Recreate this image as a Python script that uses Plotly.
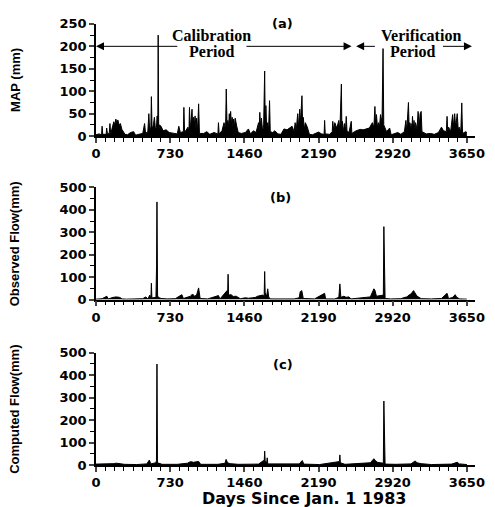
import plotly.graph_objects as go

# panel (a): mean areal precipitation (day, mm)
map_day = [0, 30, 55, 60, 66, 100, 105, 112, 130, 137, 145, 165, 175, 185, 195, 205, 215, 228, 240, 255,
           270, 285, 310, 340, 370, 390, 420, 460, 478, 488, 510, 520, 528, 540, 545, 552, 565, 575, 585, 595,
           602, 608, 612, 617, 625, 640, 660, 690, 720, 760, 800, 815, 830, 860, 865, 872, 905, 915, 920, 928,
           935, 945, 952, 960, 968, 975, 985, 990, 1000, 1010, 1018, 1060, 1090, 1120, 1160, 1200, 1205, 1212,
           1240, 1260, 1275, 1282, 1290, 1298, 1305, 1312, 1318, 1325, 1333, 1340, 1348, 1355, 1362, 1370,
           1385, 1400, 1430, 1470, 1500, 1520, 1550, 1575, 1600, 1606, 1612, 1620, 1628, 1640, 1650, 1660,
           1666, 1672, 1680, 1690, 1698, 1708, 1715, 1740, 1760, 1790, 1820, 1850, 1880, 1900, 1930, 1950,
           1960, 1970, 1985, 1993, 2005, 2012, 2020, 2027, 2033, 2040, 2050, 2060, 2080, 2100, 2130, 2160,
           2190, 2220, 2245, 2250, 2256, 2300, 2325, 2330, 2340, 2350, 2370, 2390, 2400, 2415, 2420, 2425,
           2435, 2445, 2455, 2463, 2470, 2490, 2512, 2518, 2560, 2600, 2630, 2660, 2690, 2720, 2735, 2745,
           2752, 2760, 2770, 2780, 2790, 2800, 2815, 2825, 2832, 2860, 2890, 2905, 2940, 2970, 3000, 3035,
           3050, 3058, 3075, 3082, 3088, 3095, 3100, 3108, 3115, 3122, 3130, 3138, 3145, 3160, 3170, 3180,
           3190, 3200, 3208, 3250, 3290, 3330, 3370, 3400, 3420, 3448, 3455, 3462, 3470, 3490, 3510, 3518,
           3530, 3540, 3555, 3565, 3575, 3590, 3600, 3607, 3640, 3650]
map_mm = [3, 5, 3, 22, 4, 4, 18, 6, 5, 28, 5, 20, 32, 25, 38, 30, 36, 24, 28, 15,
          10, 4, 3, 8, 10, 2, 4, 6, 28, 6, 10, 50, 15, 20, 88, 15, 25, 42, 15, 20,
          45, 10, 225, 10, 25, 22, 12, 14, 8, 6, 5, 22, 8, 10, 64, 8, 20, 10, 64, 15,
          30, 60, 20, 42, 25, 45, 15, 40, 12, 72, 6, 6, 10, 4, 8, 5, 30, 5,
          12, 30, 15, 105, 20, 35, 20, 50, 25, 55, 25, 42, 20, 38, 20, 40,
          22, 8, 6, 8, 16, 5, 12, 8, 30, 10, 53, 20, 40, 10, 25, 145,
          15, 68, 15, 30, 10, 79, 10, 8, 12, 5, 4, 16, 14, 18, 22, 10,
          30, 12, 50, 20, 60, 30, 88, 90, 30, 42, 15, 30, 20, 4, 3, 6,
          9, 5, 4, 35, 5, 4, 10, 33, 12, 30, 18, 35, 12, 116, 12, 33,
          10, 28, 12, 44, 12, 8, 33, 6, 12, 15, 14, 16, 18, 30, 20, 66,
          25, 48, 20, 30, 20, 48, 30, 195, 25, 10, 18, 3, 5, 8, 4, 10,
          35, 10, 75, 15, 30, 12, 28, 12, 44, 15, 35, 12, 30, 15, 55, 20,
          50, 55, 10, 5, 6, 4, 8, 20, 12, 10, 44, 10, 20, 10, 48, 20,
          50, 20, 50, 15, 20, 10, 74, 6, 10, 8]

# panel (b): observed flow (day, mm)
obs_day = [0, 60, 107, 120, 170, 200, 230, 260, 300, 400, 460, 490, 510, 530, 540, 545, 550, 560, 590, 596,
           600, 606, 612, 640, 700, 780, 845, 860, 900, 930, 950, 970, 990, 1010, 1025, 1100, 1205, 1220,
           1290, 1295, 1300, 1305, 1330, 1350, 1380, 1400, 1420, 1470, 1500, 1540, 1570, 1590, 1620, 1640,
           1655, 1660, 1665, 1680, 1690, 1700, 1720, 1800, 1950, 2000, 2010, 2025, 2040, 2150, 2250, 2260,
           2350, 2390, 2395, 2400, 2410, 2440, 2460, 2490, 2510, 2600, 2660, 2700, 2735, 2745, 2760, 2790,
           2820, 2828, 2833, 2838, 2845, 2900, 3000, 3040, 3060, 3080, 3100, 3125, 3140, 3160, 3180, 3200,
           3300, 3400, 3455, 3470, 3510, 3535, 3550, 3580, 3650]
obs_flow = [2, 4, 15, 3, 10, 12, 10, 3, 2, 3, 4, 12, 3, 20, 5, 73, 8, 8, 10, 150,
            435, 20, 10, 5, 3, 4, 22, 5, 12, 15, 25, 15, 20, 52, 5, 3, 18, 3,
            40, 10, 113, 20, 22, 14, 15, 10, 4, 8, 6, 8, 10, 15, 18, 20,
            15, 125, 30, 15, 48, 10, 3, 2, 3, 8, 35, 40, 5, 3, 28, 3,
            3, 10, 60, 70, 10, 15, 10, 12, 3, 6, 8, 12, 48, 42, 15, 18,
            20, 20, 325, 5, 5, 3, 4, 10, 12, 20, 25, 40, 30, 15, 10, 4,
            3, 5, 28, 4, 10, 22, 10, 3, 2]

# panel (c): computed flow (day, mm)
comp_day = [0, 100, 170, 200, 230, 280, 400, 500, 525, 540, 590, 595, 600, 605, 650, 800, 900, 930, 960, 990,
            1010, 1030, 1200, 1270, 1280, 1295, 1320, 1400, 1600, 1650, 1655, 1660, 1665, 1680, 1685, 1690,
            1700, 1800, 2000, 2030, 2045, 2200, 2390, 2395, 2400, 2405, 2430, 2450, 2700, 2735, 2750, 2770,
            2800, 2828, 2833, 2838, 2845, 2950, 3100, 3140, 3160, 3200, 3300, 3500, 3555, 3575, 3650]
comp_flow = [4, 4, 6, 8, 6, 3, 2, 5, 22, 5, 10, 20, 450, 10, 3, 3, 8, 15, 12, 15,
             16, 3, 3, 8, 25, 10, 6, 3, 4, 20, 10, 62, 20, 8, 32, 5,
             5, 2, 5, 20, 4, 2, 15, 8, 45, 10, 8, 3, 10, 28, 20, 12,
             10, 8, 285, 4, 4, 3, 5, 18, 10, 6, 2, 4, 12, 5, 2]

x_ticks = [0, 730, 1460, 2190, 2920, 3650]
y_titles = ["MAP (mm)", "Observed Flow(mm)", "Computed Flow(mm)"]
panel_tags = ["(a)", "(b)", "(c)"]

TICKFONT = dict(family="DejaVu Sans", size=13, color="black", weight="bold")
TITLEFONT = dict(family="Liberation Sans", size=13, color="black", weight="bold")
SERIF = dict(family="Liberation Serif", size=16, color="black", weight="bold")

fig = go.Figure()
series = [(map_day, map_mm), (obs_day, obs_flow), (comp_day, comp_flow)]
for i, (d, v) in enumerate(series):
    sfx = "" if i == 0 else str(i + 1)
    fig.add_trace(go.Scatter(x=d, y=v, mode="lines", line=dict(color="black", width=1),
                             fill="tozeroy", fillcolor="black", xaxis="x" + sfx, yaxis="y" + sfx,
                             showlegend=False))

domains = [[0.7341, 0.9846], [0.3692, 0.6198], [0.0, 0.2505]]
yranges = [[0, 250], [0, 500], [0, 500]]
ydt = [(50, 25), (100, 50), (100, 50)]
for i in range(3):
    sfx = "" if i == 0 else str(i + 1)
    fig.layout["xaxis" + sfx] = dict(
        domain=[0, 1], anchor="y" + sfx, range=[0, 3730], tickvals=x_ticks, ticks="outside",
        ticklen=5, tickwidth=1.5, showline=True, linecolor="black", linewidth=1.5,
        showgrid=False, zeroline=False, tickfont=TICKFONT,
        minor=dict(dtick=91.25, tick0=0, ticks="outside", ticklen=4, tickwidth=1.2, tickcolor="black"))
    fig.layout["yaxis" + sfx] = dict(
        domain=domains[i], anchor="x" + sfx, range=yranges[i], dtick=ydt[i][0], ticks="outside",
        ticklen=5, tickwidth=1.5, showline=True, linecolor="black", linewidth=1.5,
        showgrid=False, zeroline=False, tickfont=TICKFONT,
        minor=dict(dtick=ydt[i][1], ticks="outside", ticklen=4, tickwidth=1.2, tickcolor="black"))

ann = []
tag_pos = [(1835, 250), (1815, 456), (1845, 447)]
for i in range(3):
    sfx = "" if i == 0 else str(i + 1)
    ann.append(dict(xref="x" + sfx, yref="y" + sfx, x=tag_pos[i][0], y=tag_pos[i][1], text=panel_tags[i],
                    showarrow=False, font=dict(family="DejaVu Sans", size=13, color="black", weight="bold")))
    ann.append(dict(xref="paper", yref="paper", x=-0.214, y=sum(domains[i]) / 2, text=y_titles[i],
                    xanchor="center", yanchor="middle", textangle=-90, showarrow=False, font=TITLEFONT))

# period labels and arrows in panel (a)
ann += [
    dict(xref="x", yref="y", x=1136, y=224, text="Calibration", showarrow=False, font=SERIF),
    dict(xref="x", yref="y", x=1136, y=189, text="Period", showarrow=False, font=SERIF),
    dict(xref="x", yref="y", x=3194, y=224, text="Verification", showarrow=False, font=SERIF),
    dict(xref="x", yref="y", x=3115, y=189, text="Period", showarrow=False, font=SERIF),
]
arrows = [(0, 815), (2515, 1466), (2560, 2760), (3700, 3400)]
for tip, tail in arrows:
    ann.append(dict(xref="x", yref="y", axref="x", ayref="y", x=tip, y=200, ax=tail, ay=200, text="",
                    showarrow=True, arrowhead=2, arrowsize=1.6, arrowwidth=1, arrowcolor="black"))

ann.append(dict(xref="paper", yref="paper", x=0.55, y=-0.075, yanchor="middle", text="Days Since Jan. 1 1983",
                showarrow=False, font=dict(family="DejaVu Sans", size=16, color="black", weight="bold")))

# the page body adds an 8px margin, so the figure is 8px smaller than the window
fig.update_layout(width=487, height=499, margin=dict(l=88, r=20, t=2, b=42),
                  plot_bgcolor="white", paper_bgcolor="white", annotations=ann)

fig.write_html("out.html")
